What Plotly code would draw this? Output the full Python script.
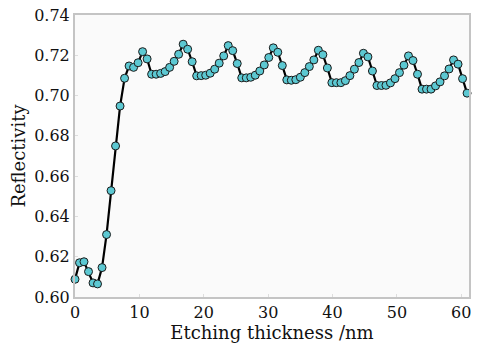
import plotly.graph_objects as go

thickness = [0.0, 0.7, 1.4, 2.1, 2.8, 3.5, 4.2, 4.9, 5.6, 6.3, 7.0, 7.7, 8.4, 9.1, 9.8,
             10.5, 11.2, 11.9, 12.6, 13.3, 14.0, 14.7, 15.4, 16.1, 16.8, 17.5, 18.2, 18.9,
             19.6, 20.3, 21.0, 21.7, 22.4, 23.1, 23.8, 24.5, 25.2, 25.9, 26.6, 27.3, 28.0,
             28.7, 29.4, 30.1, 30.8, 31.5, 32.2, 32.9, 33.6, 34.3, 35.0, 35.7, 36.4, 37.1,
             37.8, 38.5, 39.2, 39.9, 40.6, 41.3, 42.0, 42.7, 43.4, 44.1, 44.8, 45.5, 46.2,
             46.9, 47.6, 48.3, 49.0, 49.7, 50.4, 51.1, 51.8, 52.5, 53.2, 53.9, 54.6, 55.3,
             56.0, 56.7, 57.4, 58.1, 58.8, 59.5, 60.2, 60.9]

reflectivity = [0.6088, 0.6170, 0.6175, 0.6126, 0.6070, 0.6065, 0.6146, 0.6310, 0.6528,
                0.6750, 0.6948, 0.7086, 0.7147, 0.7140, 0.7163, 0.7218, 0.7182, 0.7106,
                0.7106, 0.7110, 0.7119, 0.7140, 0.7170, 0.7205, 0.7255, 0.7230, 0.7168,
                0.7098, 0.7099, 0.7101, 0.7111, 0.7131, 0.7161, 0.7197, 0.7248, 0.7223,
                0.7159, 0.7088, 0.7088, 0.7091, 0.7101, 0.7122, 0.7152, 0.7189, 0.7237,
                0.7215, 0.7149, 0.7078, 0.7076, 0.7079, 0.7091, 0.7114, 0.7144, 0.7177,
                0.7225, 0.7203, 0.7137, 0.7064, 0.7064, 0.7064, 0.7074, 0.7099, 0.7131,
                0.7164, 0.7210, 0.7192, 0.7122, 0.7050, 0.7050, 0.7051, 0.7063, 0.7084,
                0.7114, 0.7151, 0.7197, 0.7174, 0.7106, 0.7032, 0.7032, 0.7032, 0.7048,
                0.7068, 0.7098, 0.7132, 0.7177, 0.7156, 0.7084, 0.7012]

x_ticks = [0, 10, 20, 30, 40, 50, 60]
y_ticks = [0.60, 0.62, 0.64, 0.66, 0.68, 0.70, 0.72, 0.74]

FONT = "DejaVu Serif"

fig = go.Figure()
fig.add_trace(go.Scatter(
    x=thickness, y=reflectivity, mode="lines+markers",
    line=dict(color="#000000", width=2.2),
    marker=dict(size=8, color="#5cc8d2", line=dict(color="#1a1a1a", width=1)),
    cliponaxis=False, showlegend=False,
))

axis_common = dict(
    showline=True, mirror=True, linecolor="#c4c4c4", linewidth=2,
    showgrid=False, zeroline=False, automargin=False,
    ticks="inside", ticklen=3, tickcolor="#dddddd",
    tickfont=dict(family=FONT, size=16, color="#111111"),
)

fig.update_layout(
    width=485, height=345,
    margin=dict(l=75, r=16, t=15, b=48),
    paper_bgcolor="#ffffff", plot_bgcolor="#fafafa",
    font=dict(family=FONT, color="#111111"),
    xaxis=dict(range=[0, 61.2], tickvals=x_ticks, ticklabelstandoff=0,
               title=dict(text="Etching thickness /nm", font=dict(family=FONT, size=18), standoff=0),
               **axis_common),
    yaxis=dict(range=[0.60, 0.74], tickvals=y_ticks, tickformat=".2f",
               title=dict(text="Reflectivity", font=dict(family=FONT, size=18), standoff=4),
               **axis_common),
)

fig.write_html("out.html", config={"displayModeBar": False},
               post_script="document.body.style.margin='0';")
